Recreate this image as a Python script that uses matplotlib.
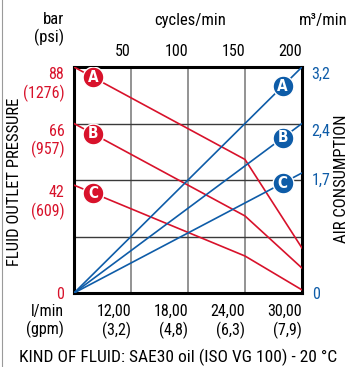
import matplotlib
matplotlib.use("Agg")
import matplotlib.pyplot as plt
import numpy as np
from matplotlib.lines import Line2D

plt.rcParams['font.family'] = ['Roboto Condensed', 'DejaVu Sans']
plt.rcParams['font.stretch'] = 'condensed'

RED = '#d8122b'
BLUE = '#0e5ca8'

# fluid outlet pressure (bar) vs pump cycles/min
cycles = [0, 150, 200]
p_A = [88, 52, 17.5]
p_B = [66, 30, 9.7]
p_C = [42, 14.4, 1.2]

# air consumption (m3/min)
air_cycles = [0, 200]
air_A = [0, 3.2]
air_B = [0, 2.4]
air_C = [0, 1.7]

cyc_ticks = [50, 100, 150, 200]
flow_lpm = ['12,00', '18,00', '24,00', '30,00']
flow_gpm = ['(3,2)', '(4,8)', '(6,3)', '(7,9)']
bar_ticks = [0, 42, 66, 88]
bar_labels = ['0', '42\n(609)', '66\n(957)', '88\n(1276)']
air_ticks = [0, 1.7, 2.4, 3.2]
air_labels = ['0', '1,7', '2,4', '3,2']

FS = 11.5

fig = plt.figure(figsize=(3.5, 3.67), dpi=100)
ax = fig.add_axes([74/350, 1-293/367, 228/350, 226/367])
ax.set_xlim(0, 200)
ax.set_ylim(0, 88)

# 4x4 grid
for c in cyc_ticks[:-1]:
    ax.axvline(c, color='#808080', lw=1.2, zorder=1)
for q in [22, 44, 66]:
    ax.axhline(q, color='#3a3a3a', lw=1.0, zorder=1)

for p in [p_A, p_B, p_C]:
    ax.plot(cycles, p, color=RED, lw=1.2, zorder=3)

ax2 = ax.twinx()
ax2.set_ylim(0, 3.2)
for a in [air_A, air_B, air_C]:
    ax2.plot(air_cycles, a, color=BLUE, lw=1.2, zorder=3)

# circled letters
for p, let in zip([p_A, p_B, p_C], 'ABC'):
    y = np.interp(17, cycles, p)
    ax.plot(17, y, 'o', ms=15, color=RED, mec='white', mew=1, zorder=5)
    ax.text(17, y, let, color='white', fontsize=11, fontweight='bold',
            family='DejaVu Sans', ha='center', va='center', zorder=6)
for a, let in zip([air_A, air_B, air_C], 'ABC'):
    y = np.interp(183, air_cycles, a)
    ax2.plot(183, y, 'o', ms=15, color=BLUE, mec='white', mew=1, zorder=5)
    ax2.text(183, y, let, color='white', fontsize=11, fontweight='bold',
             family='DejaVu Sans', ha='center', va='center', zorder=6)

# frame
for s in ax.spines.values():
    s.set_linewidth(2.2)
for s in ax2.spines.values():
    s.set_visible(False)

# bottom ticks: flow
ax.set_xticks(cyc_ticks)
ax.set_xticklabels([f'{a}\n{b}' for a, b in zip(flow_lpm, flow_gpm)])
ax.tick_params(axis='x', length=0, pad=8, labelsize=FS)
for t in ax.get_xticklabels():
    t.set_ha('right')

# left ticks: pressure
ax.set_yticks(bar_ticks)
ax.set_yticklabels(bar_labels)
ax.tick_params(axis='y', length=0, pad=7, labelsize=FS, labelcolor=RED)
for t in ax.get_yticklabels()[1:]:
    t.set_va('top')

# right ticks: air
ax2.set_yticks(air_ticks)
ax2.set_yticklabels(air_labels)
ax2.tick_params(axis='y', length=0, pad=7, labelsize=FS, labelcolor=BLUE)
for t in ax2.get_yticklabels()[1:]:
    t.set_va('top')

# top ticks: cycles
top = ax.secondary_xaxis('top')
top.set_xticks(cyc_ticks)
top.set_xticklabels([str(c) for c in cyc_ticks])
top.tick_params(length=0, pad=6, labelsize=FS)
for s in top.spines.values():
    s.set_visible(False)
for t in top.get_xticklabels():
    t.set_ha('right')

# units and titles
fig.text(64/350, 1-29/367, 'bar\n(psi)', ha='right', va='center', fontsize=FS + 0.5)
fig.text(190/350, 1-20/367, 'cycles/min', ha='center', va='center', fontsize=FS + 0.5)
fig.text(323/350, 1-20/367, 'm³/min', ha='center', va='center', fontsize=FS + 0.5)
fig.text(64/350, 1-321/367, 'l/min\n(gpm)', ha='right', va='center', fontsize=FS)
fig.text(15/350, 1-182/367, 'FLUID OUTLET PRESSURE', rotation=90,
         ha='center', va='center', fontsize=FS + 0.5)
fig.text(342/350, 1-179/367, 'AIR CONSUMPTION', rotation=90,
         ha='center', va='center', fontsize=FS + 0.5)
fig.text(178/350, 1-357/367, 'KIND OF FLUID: SAE30 oil (ISO VG 100) - 20 °C',
         ha='center', va='center', fontsize=FS + 1)

fig.add_artist(Line2D([1.5/350, 1.5/350], [0, 1], color='#9a9a9a', lw=0.8))

fig.savefig('out.png', dpi=100)
